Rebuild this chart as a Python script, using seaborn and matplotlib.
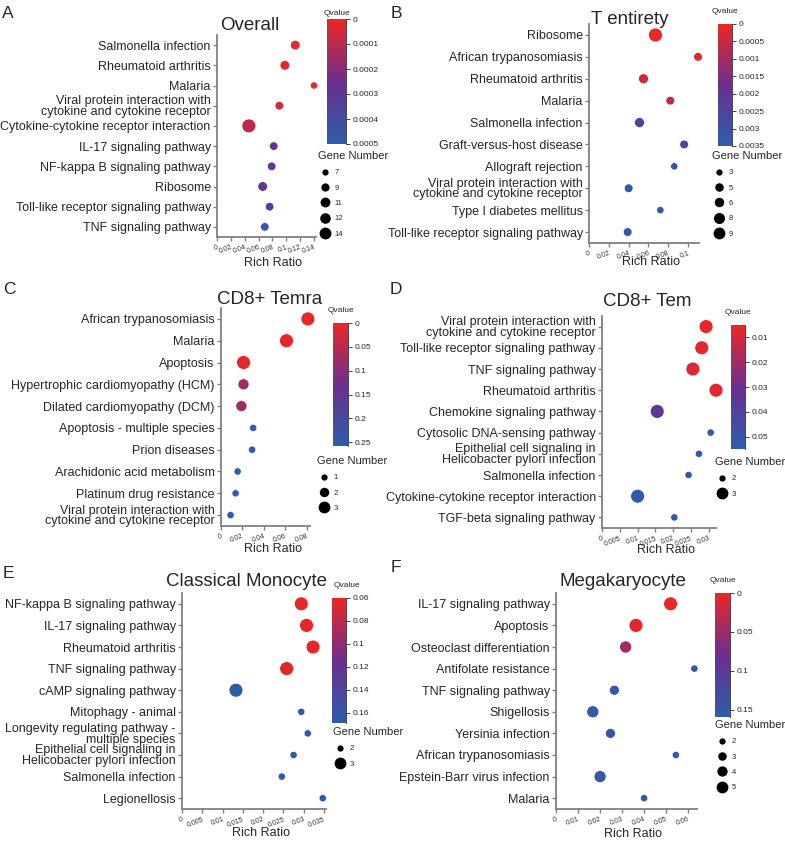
import numpy as np
import pandas as pd
import matplotlib
matplotlib.use('Agg')
import matplotlib.pyplot as plt
import seaborn as sns
from matplotlib.colors import LinearSegmentedColormap, Normalize
from matplotlib.cm import ScalarMappable
from matplotlib.lines import Line2D

sns.set_style('white')
plt.rcParams['font.family'] = ['Liberation Sans', 'DejaVu Sans']

VIRAL = 'Viral protein interaction with\ncytokine and cytokine receptor'
EPITH = 'Epithelial cell signaling in\nHelicobacter pylori infection'

# A - Overall
a_terms = ['Salmonella infection', 'Rheumatoid arthritis', 'Malaria', VIRAL,
           'Cytokine-cytokine receptor interaction', 'IL-17 signaling pathway',
           'NF-kappa B signaling pathway', 'Ribosome',
           'Toll-like receptor signaling pathway', 'TNF signaling pathway']
a_ratio = [0.113, 0.098, 0.140, 0.090, 0.046, 0.082, 0.079, 0.066, 0.076, 0.069]
a_genes = [9, 9, 7, 8, 14, 8, 8, 9, 8, 8]
a_qval = [0.00001, 0.00002, 0.00001, 0.00004, 0.00009, 0.00028, 0.0003, 0.00031, 0.00031, 0.00045]
a_qlim = [0, 0.0005]
a_qticks = [0, 0.0001, 0.0002, 0.0003, 0.0004, 0.0005]
a_xticks = [0, 0.02, 0.04, 0.06, 0.08, 0.1, 0.12, 0.14]
a_sizes = [7, 9, 11, 12, 14]

# B - T entirety
b_terms = ['Ribosome', 'African trypanosomiasis', 'Rheumatoid arthritis', 'Malaria',
           'Salmonella infection', 'Graft-versus-host disease', 'Allograft rejection',
           VIRAL, 'Type I diabetes mellitus', 'Toll-like receptor signaling pathway']
b_ratio = [0.067, 0.110, 0.055, 0.082, 0.051, 0.096, 0.086, 0.040, 0.072, 0.039]
b_genes = [9, 4, 5, 4, 5, 4, 3, 4, 3, 4]
b_qval = [0.00005, 0.0002, 0.0004, 0.0006, 0.0025, 0.0026, 0.003, 0.0033, 0.0032, 0.0034]
b_qlim = [0, 0.0035]
b_qticks = [0, 0.0005, 0.001, 0.0015, 0.002, 0.0025, 0.003, 0.0035]
b_xticks = [0, 0.02, 0.04, 0.06, 0.08, 0.1]
b_sizes = [3, 5, 6, 8, 9]

# C - CD8+ Temra
c_terms = ['African trypanosomiasis', 'Malaria', 'Apoptosis',
           'Hypertrophic cardiomyopathy (HCM)', 'Dilated cardiomyopathy (DCM)',
           'Apoptosis - multiple species', 'Prion diseases',
           'Arachidonic acid metabolism', 'Platinum drug resistance', VIRAL]
c_ratio = [0.081, 0.061, 0.021, 0.021, 0.019, 0.030, 0.029, 0.0155, 0.0136, 0.0089]
c_genes = [3, 3, 3, 2, 2, 1, 1, 1, 1, 1]
c_qval = [0.005, 0.008, 0.012, 0.075, 0.075, 0.25, 0.25, 0.255, 0.255, 0.255]
c_qlim = [0, 0.258]
c_qticks = [0, 0.05, 0.1, 0.15, 0.2, 0.25]
c_xticks = [0, 0.02, 0.04, 0.06, 0.08]
c_sizes = [1, 2, 3]

# D - CD8+ Tem
d_terms = [VIRAL, 'Toll-like receptor signaling pathway', 'TNF signaling pathway',
           'Rheumatoid arthritis', 'Chemokine signaling pathway',
           'Cytosolic DNA-sensing pathway', EPITH, 'Salmonella infection',
           'Cytokine-cytokine receptor interaction', 'TGF-beta signaling pathway']
d_ratio = [0.0292, 0.0280, 0.0255, 0.0320, 0.0155, 0.0305, 0.0272, 0.0243, 0.0100, 0.0203]
d_genes = [3, 3, 3, 3, 3, 2, 2, 2, 3, 2]
d_qval = [0.006, 0.007, 0.008, 0.007, 0.035, 0.05, 0.052, 0.052, 0.053, 0.052]
d_qlim = [0.005, 0.055]
d_qticks = [0.01, 0.02, 0.03, 0.04, 0.05]
d_xticks = [0, 0.005, 0.01, 0.015, 0.02, 0.025, 0.03]
d_sizes = [2, 3]

# E - Classical Monocyte
e_terms = ['NF-kappa B signaling pathway', 'IL-17 signaling pathway', 'Rheumatoid arthritis',
           'TNF signaling pathway', 'cAMP signaling pathway', 'Mitophagy - animal',
           'Longevity regulating pathway -\nmultiple species', EPITH,
           'Salmonella infection', 'Legionellosis']
e_ratio = [0.0294, 0.0307, 0.0323, 0.0258, 0.0133, 0.0294, 0.0310, 0.0275, 0.0246, 0.0347]
e_genes = [3, 3, 3, 3, 3, 2, 2, 2, 2, 2]
e_qval = [0.062, 0.063, 0.064, 0.066, 0.166, 0.165, 0.165, 0.165, 0.166, 0.165]
e_qlim = [0.06, 0.169]
e_qticks = [0.06, 0.08, 0.1, 0.12, 0.14, 0.16]
e_xticks = [0, 0.005, 0.01, 0.015, 0.02, 0.025, 0.03, 0.035]
e_sizes = [2, 3]

# F - Megakaryocyte
f_terms = ['IL-17 signaling pathway', 'Apoptosis', 'Osteoclast differentiation',
           'Antifolate resistance', 'TNF signaling pathway', 'Shigellosis',
           'Yersinia infection', 'African trypanosomiasis',
           'Epstein-Barr virus infection', 'Malaria']
f_ratio = [0.052, 0.0363, 0.0316, 0.0628, 0.0265, 0.0167, 0.0247, 0.0544, 0.0200, 0.0400]
f_genes = [5, 5, 4, 2, 3, 4, 3, 2, 4, 2]
f_qval = [0.002, 0.006, 0.045, 0.145, 0.14, 0.145, 0.145, 0.15, 0.145, 0.15]
f_qlim = [0, 0.159]
f_qticks = [0, 0.05, 0.1, 0.15]
f_xticks = [0, 0.01, 0.02, 0.03, 0.04, 0.05, 0.06]
f_sizes = [2, 3, 4, 5]

W, H = 785, 841
GRAY = '#808080'
SIZES = (28, 100)
LEG_SCALE = 0.85  # legend dots are drawn a bit smaller than the plotted ones
cmap = LinearSegmentedColormap.from_list('qv', ['#ec2724', '#6c2e8f', '#2b5eab'])

# pixel layout of each panel
layout = {
    'A': dict(ax=(217, 35, 316, 237), xmax=0.143, cbar=(327, 19, 346, 144), qpad=3, qx=0.5,
              title=(250, 25), letter=(8, 14), leg=(318, 151), xlab=257),
    'B': dict(ax=(589, 24, 699, 243), xmax=0.111, cbar=(718, 24, 732, 146), qpad=8, qx=0.5,
              title=(630, 20), letter=(396, 14), leg=(712, 151), xlab=256),
    'C': dict(ax=(221, 308, 310, 526), xmax=0.083, cbar=(333, 323, 348, 446), qpad=8, qx=0.5,
              title=(270, 300), letter=(9, 289), leg=(317, 456), xlab=543),
    'D': dict(ax=(602, 316, 716, 528), xmax=0.032, cbar=(731, 325, 745, 449), qpad=8, qx=0.5,
              title=(647, 302), letter=(396, 289), leg=(715, 457), xlab=544),
    'E': dict(ax=(182, 593, 326, 809), xmax=0.0355, cbar=(332, 598, 346, 723), qpad=8, qx=1.1,
              title=(247, 582), letter=(8, 574), leg=(333, 727), xlab=827),
    'F': dict(ax=(556, 593, 697, 809), xmax=0.064, cbar=(715, 593, 730, 717), qpad=8, qx=0.5,
              title=(623, 582), letter=(396, 568), leg=(715, 720), xlab=828),
}

fig = plt.figure(figsize=(W / 100, H / 100), dpi=100)


def box(l, t, r, b):
    return [l / W, 1 - b / H, (r - l) / W, (b - t) / H]


def size_of(g, lo, hi):
    return SIZES[0] + (g - lo) / (hi - lo) * (SIZES[1] - SIZES[0])


def plot_panel(letter, title, terms, ratio, genes, qval, qlim, qticks, xticks, sizes):
    lay = layout[letter]
    df = pd.DataFrame({'term': terms, 'ratio': ratio, 'genes': genes, 'q': qval})
    ax = fig.add_axes(box(*lay['ax']))
    norm = Normalize(*qlim)
    glo, ghi = min(sizes), max(sizes)
    sns.scatterplot(
        data=df, x='ratio', y='term',
        hue='q', palette=cmap, hue_norm=norm,
        size='genes', sizes=SIZES, size_norm=(glo, ghi),
        edgecolor='white', linewidth=0.5, legend=False, ax=ax, zorder=3,
    )
    for coll in ax.collections:
        coll.set_clip_on(False)
    ax.set_xlim(0, lay['xmax'])
    ax.set_ylim(len(terms) - 0.5, -0.5)
    ax.set_xticks(xticks)
    ax.set_xticklabels([f'{v:g}' for v in xticks], rotation=20, ha='right',
                       rotation_mode='anchor', fontsize=5, color='#333333')
    ax.tick_params(axis='y', labelsize=9, length=3, width=1, color=GRAY, pad=1.5, left=True)
    ax.tick_params(axis='x', length=3, width=1, color=GRAY, pad=2, bottom=True)
    for lbl in ax.get_yticklabels():
        lbl.set_linespacing(0.85)
    for s in ['top', 'right']:
        ax.spines[s].set_visible(False)
    for s in ['left', 'bottom']:
        ax.spines[s].set_color(GRAY)
        ax.spines[s].set_linewidth(1.3)
    ax.set_ylabel('')
    ax.set_xlabel('Rich Ratio', fontsize=9)
    l, t, r, b = lay['ax']
    ax.xaxis.set_label_coords(0.5 + 7 / (r - l), -(lay['xlab'] - b) / (b - t))

    # Qvalue colour bar, 0 on top
    cax = fig.add_axes(box(*lay['cbar']))
    cb = fig.colorbar(ScalarMappable(norm=norm, cmap=cmap), cax=cax)
    cax.invert_yaxis()
    cb.outline.set_visible(False)
    cb.set_ticks(qticks)
    cb.set_ticklabels([f'{v:g}' for v in qticks])
    cax.spines['right'].set_visible(True)
    cax.spines['right'].set_color('#444444')
    cax.spines['right'].set_linewidth(0.7)
    cax.tick_params(labelsize=6, length=3, width=0.7, color='#444444', pad=1.5)
    qt = cax.set_title('Qvalue', fontsize=6, pad=lay['qpad'])
    qt.set_x(lay['qx'])

    # gene number legend
    handles = [Line2D([], [], ls='', marker='o', color='black', markeredgewidth=0,
                      markersize=LEG_SCALE * np.sqrt(size_of(g, glo, ghi))) for g in sizes]
    ax.legend(handles, [str(g) for g in sizes], title='Gene Number',
              loc='upper left', bbox_to_anchor=(lay['leg'][0] / W, 1 - lay['leg'][1] / H),
              bbox_transform=fig.transFigure, frameon=False, fontsize=5.5,
              title_fontsize=8, alignment='left', borderpad=0, borderaxespad=0,
              handlelength=1.8, handletextpad=0.4, labelspacing=1.05)

    fig.text(lay['title'][0] / W, 1 - lay['title'][1] / H, title, fontsize=13.5,
             ha='center', va='center')
    fig.text(lay['letter'][0] / W, 1 - lay['letter'][1] / H, letter, fontsize=12.5,
             ha='center', va='center')


plot_panel('A', 'Overall', a_terms, a_ratio, a_genes, a_qval, a_qlim, a_qticks, a_xticks, a_sizes)
plot_panel('B', 'T entirety', b_terms, b_ratio, b_genes, b_qval, b_qlim, b_qticks, b_xticks, b_sizes)
plot_panel('C', 'CD8+ Temra', c_terms, c_ratio, c_genes, c_qval, c_qlim, c_qticks, c_xticks, c_sizes)
plot_panel('D', 'CD8+ Tem', d_terms, d_ratio, d_genes, d_qval, d_qlim, d_qticks, d_xticks, d_sizes)
plot_panel('E', 'Classical Monocyte', e_terms, e_ratio, e_genes, e_qval, e_qlim, e_qticks, e_xticks, e_sizes)
plot_panel('F', 'Megakaryocyte', f_terms, f_ratio, f_genes, f_qval, f_qlim, f_qticks, f_xticks, f_sizes)

fig.savefig('out.png', dpi=100)
